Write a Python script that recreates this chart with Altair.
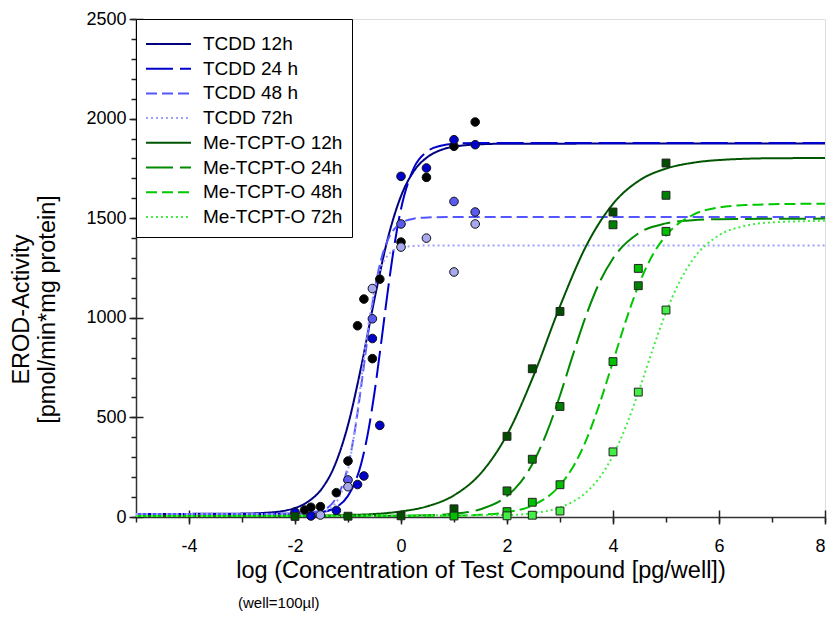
import altair as alt
import pandas as pd

FONT = "Liberation Sans"

SERIES = ["TCDD 12h", "TCDD 24 h", "TCDD 48 h", "TCDD 72h",
          "Me-TCPT-O 12h", "Me-TCPT-O 24h", "Me-TCPT-O 48h", "Me-TCPT-O 72h"]
LINE_COLORS = ["#000080", "#0000cc", "#5555ff", "#a0a0ff",
               "#005500", "#008a00", "#00c800", "#44ee44"]
POINT_COLORS = ["#000000", "#0000cc", "#5a5af0", "#a8a8f0",
                "#004d00", "#008000", "#00c000", "#44ee44"]
LINE_DASHES = [[1, 0], [27, 7], [11, 5], [2, 3],
               [1, 0], [27, 7], [11, 5], [2, 3]]

# measured points (x = log concentration, y = EROD activity)
TCDD_12H_X = [-1.82, -1.70, -1.52, -1.22, -1.0, -0.82, -0.70, -0.54, -0.40, 0, 0.48, 1.0, 1.4]
TCDD_12H_Y = [35, 49, 52, 122, 281, 960, 1094, 795, 1194, 1380, 1705, 1861, 1983]
TCDD_24H_X = [-2.0, -1.70, -1.22, -0.82, -0.70, -0.54, -0.40, 0, 0.48, 1.0, 1.4]
TCDD_24H_Y = [24, 5, 33, 163, 206, 896, 460, 1710, 1752, 1894, 1869]
TCDD_48H_X = [-1.0, -0.54, 0, 1.0, 1.4]
TCDD_48H_Y = [186, 995, 1471, 1584, 1531]
TCDD_72H_X = [-1.52, -1.0, -0.54, 0, 0.48, 1.0, 1.4]
TCDD_72H_Y = [10, 152, 1147, 1355, 1400, 1230, 1471]
ME_12H_X = [-2, -1, 0, 1, 2, 2.477, 3, 4, 5]
ME_12H_Y = [3, 4, 6, 41, 405, 744, 1032, 1531, 1777]
ME_24H_X = [2, 2.477, 3, 4, 4.477, 5]
ME_24H_Y = [131, 290, 555, 1467, 1161, 1615]
ME_48H_X = [1, 2, 2.477, 3, 4, 4.477, 5]
ME_48H_Y = [5, 27, 74, 162, 780, 1248, 1434]
ME_72H_X = [2, 2.477, 3, 4, 4.477, 5]
ME_72H_Y = [6, 9, 30, 327, 627, 1039]

# fitted curves
TCDD_12H_CX = [-5, -3, -2.5, -2, -1.75, -1.5, -1.25, -1, -0.75, -0.5, -0.25, 0, 0.25, 0.5, 0.75, 1, 1.5, 2, 8]
TCDD_12H_CY = [15, 17, 22, 45, 78, 140, 259, 462, 756, 1094, 1397, 1611, 1739, 1807, 1842, 1859, 1871, 1874, 1875]
TCDD_24H_CX = [-5, -2, -1.5, -1.25, -1, -0.875, -0.75, -0.625, -0.5, -0.375, -0.25, -0.125, 0, 0.25, 0.5, 0.75, 1, 1.5, 8]
TCDD_24H_CY = [15, 16, 25, 45, 106, 169, 269, 420, 625, 873, 1133, 1365, 1546, 1756, 1836, 1864, 1874, 1877, 1878]
TCDD_48H_CX = [-5, -2, -1.5, -1.25, -1.125, -1, -0.875, -0.75, -0.625, -0.5, -0.375, -0.25, 0, 0.25, 0.5, 1, 8]
TCDD_48H_CY = [15, 16, 33, 84, 146, 255, 427, 659, 912, 1134, 1292, 1390, 1475, 1498, 1504, 1506, 1506]
TCDD_72H_CX = [-5, -2, -1.5, -1.25, -1.125, -1, -0.875, -0.75, -0.625, -0.5, -0.375, -0.25, 0, 0.25, 0.5, 8]
TCDD_72H_CY = [15, 15, 25, 65, 123, 237, 429, 689, 949, 1141, 1255, 1313, 1353, 1361, 1363, 1363]
ME_12H_CX = [-5, -3, -2, -1, -0.5, 0, 0.5, 1, 1.5, 2, 2.5, 3, 3.5, 4, 4.5, 5, 5.5, 6, 7, 8]
ME_12H_CY = [5, 5, 6, 10, 15, 28, 54, 109, 218, 413, 709, 1058, 1364, 1572, 1690, 1749, 1778, 1792, 1801, 1802]
ME_24H_CX = [-5, 0, 0.5, 1, 1.5, 2, 2.25, 2.5, 2.75, 3, 3.25, 3.5, 3.75, 4, 4.5, 5, 5.5, 6, 8]
ME_24H_CY = [5, 6, 9, 16, 39, 105, 172, 276, 423, 610, 819, 1017, 1180, 1298, 1427, 1474, 1490, 1495, 1498]
ME_48H_CX = [-5, 1, 1.5, 2, 2.5, 3, 3.25, 3.5, 3.75, 4, 4.25, 4.5, 4.75, 5, 5.5, 6, 6.5, 7, 8]
ME_48H_CY = [5, 7, 11, 24, 60, 159, 253, 390, 571, 780, 991, 1175, 1316, 1413, 1516, 1554, 1566, 1570, 1573]
ME_72H_CX = [-5, 2, 2.5, 3, 3.5, 3.75, 4, 4.25, 4.5, 4.75, 5, 5.25, 5.5, 6, 6.5, 7, 8]
ME_72H_CY = [5, 10, 20, 48, 125, 199, 309, 459, 643, 842, 1027, 1178, 1290, 1414, 1462, 1479, 1487]

X_MINOR = list(range(-5, 9))
X_MAJOR = [-4, -2, 0, 2, 4, 6, 8]
Y_MINOR = list(range(0, 2501, 100))
Y_MAJOR = [0, 500, 1000, 1500, 2000, 2500]

POINT_X = [TCDD_12H_X, TCDD_24H_X, TCDD_48H_X, TCDD_72H_X, ME_12H_X, ME_24H_X, ME_48H_X, ME_72H_X]
POINT_Y = [TCDD_12H_Y, TCDD_24H_Y, TCDD_48H_Y, TCDD_72H_Y, ME_12H_Y, ME_24H_Y, ME_48H_Y, ME_72H_Y]
CURVE_X = [TCDD_12H_CX, TCDD_24H_CX, TCDD_48H_CX, TCDD_72H_CX, ME_12H_CX, ME_24H_CX, ME_48H_CX, ME_72H_CX]
CURVE_Y = [TCDD_12H_CY, TCDD_24H_CY, TCDD_48H_CY, TCDD_72H_CY, ME_12H_CY, ME_24H_CY, ME_48H_CY, ME_72H_CY]

line_rows, circ_rows, sq_rows = [], [], []
for i, s in enumerate(SERIES):
    for x, y in zip(CURVE_X[i], CURVE_Y[i]):
        line_rows.append({"series": s, "x": x, "y": y})
    target = circ_rows if i < 4 else sq_rows
    for x, y in zip(POINT_X[i], POINT_Y[i]):
        target.append({"series": s, "x": x, "y": y, "pcolor": POINT_COLORS[i]})

lines_df = pd.DataFrame(line_rows)
circ_df = pd.DataFrame(circ_rows)
sq_df = pd.DataFrame(sq_rows)

xscale = alt.Scale(domain=[-5, 8], nice=False, zero=False)
yscale = alt.Scale(domain=[0, 2500], nice=False, zero=False)

AX = dict(grid=False, tickWidth=1.5, tickColor="#222222", domainColor="#333333",
          domainWidth=1.5, labelFont=FONT, labelFontSize=18, labelColor="#000000",
          titleFont=FONT, titleFontWeight="normal", titleColor="#000000")

# labelled major ticks (outward half)
x_major = alt.Axis(values=X_MAJOR, tickSize=7, labelPadding=13, orient="bottom",
                   labelExpr="'' + datum.value",
                   title="log (Concentration of Test Compound [pg/well])",
                   titleFontSize=23.5, titleBaseline="middle", titleY=53, **AX)
y_major = alt.Axis(values=Y_MAJOR, tickSize=7, labelPadding=3, orient="left",
                   labelExpr="'' + datum.value",
                   title=["EROD-Activity", "[pmol/min*mg protein]"],
                   titleFontSize=23.5, titleLineHeight=26, titleBaseline="middle",
                   titleAlign="center", titleAngle=270, titleX=-115, titleY=290, **AX)
# minor ticks (outward only)
x_minor = alt.Axis(values=X_MINOR, tickSize=5, labels=False, domain=False, title=None,
                   orient="bottom", **AX)
y_minor = alt.Axis(values=Y_MINOR, tickSize=5, labels=False, domain=False, title=None,
                   orient="left", **AX)
# inward half of the major ticks
x_inner = alt.Axis(values=X_MAJOR, tickSize=7, labels=False, domain=False, title=None,
                   orient="bottom", offset=-7, **AX)
y_inner = alt.Axis(values=Y_MAJOR, tickSize=7, labels=False, domain=False, title=None,
                   orient="left", offset=-7, **AX)

# an invisible spacer title (non-breaking spaces) widens the legend box
legend = alt.Legend(title="\u00a0" * 160, titleFontSize=5, titlePadding=0, titleFont=FONT,
                    titleLimit=400,
                    orient="top-left", offset=0, padding=9,
                    strokeColor="#000000", fillColor="#ffffff",
                    labelFont=FONT, labelFontSize=19, labelColor="#000000",
                    symbolType="stroke", symbolSize=2025, symbolStrokeWidth=2,
                    clipHeight=22, rowPadding=2.7, labelOffset=11)

lines = alt.Chart(lines_df).mark_line(strokeWidth=2, interpolate="monotone").encode(
    x=alt.X("x:Q", scale=xscale, axis=x_major),
    y=alt.Y("y:Q", scale=yscale, axis=y_major),
    color=alt.Color("series:N", scale=alt.Scale(domain=SERIES, range=LINE_COLORS), legend=legend),
    strokeDash=alt.StrokeDash("series:N", scale=alt.Scale(domain=SERIES, range=LINE_DASHES), legend=legend),
    detail="series:N",
)

circles = alt.Chart(circ_df).mark_point(shape="circle", filled=True, size=74, opacity=1,
                                        stroke="#111111", strokeWidth=1).encode(
    x=alt.X("x:Q", scale=xscale, axis=x_minor),
    y=alt.Y("y:Q", scale=yscale, axis=y_minor),
    fill=alt.Fill("pcolor:N", scale=None),
)

squares = alt.Chart(sq_df).mark_point(shape="square", filled=True, size=62, opacity=1,
                                      stroke="#222222", strokeWidth=1).encode(
    x=alt.X("x:Q", scale=xscale, axis=x_inner),
    y=alt.Y("y:Q", scale=yscale, axis=y_inner),
    fill=alt.Fill("pcolor:N", scale=None),
)

chart = alt.layer(lines, circles, squares).resolve_axis(
    x="independent", y="independent"
).properties(
    width=689, height=498,
    autosize=alt.AutoSizeParams(type="none"),
    padding={"left": 136, "top": 19, "right": 8, "bottom": 106},
    title=alt.TitleParams("(well=100µl)", orient="bottom", anchor="start", frame="group",
                          dx=102, offset=14, font=FONT, fontSize=15, fontWeight="normal",
                          color="#000000"),
).configure_view(stroke="#000000", strokeWidth=1).configure(background="#ffffff")

chart.save("out.html", embed_options={"renderer": "svg", "actions": False})
